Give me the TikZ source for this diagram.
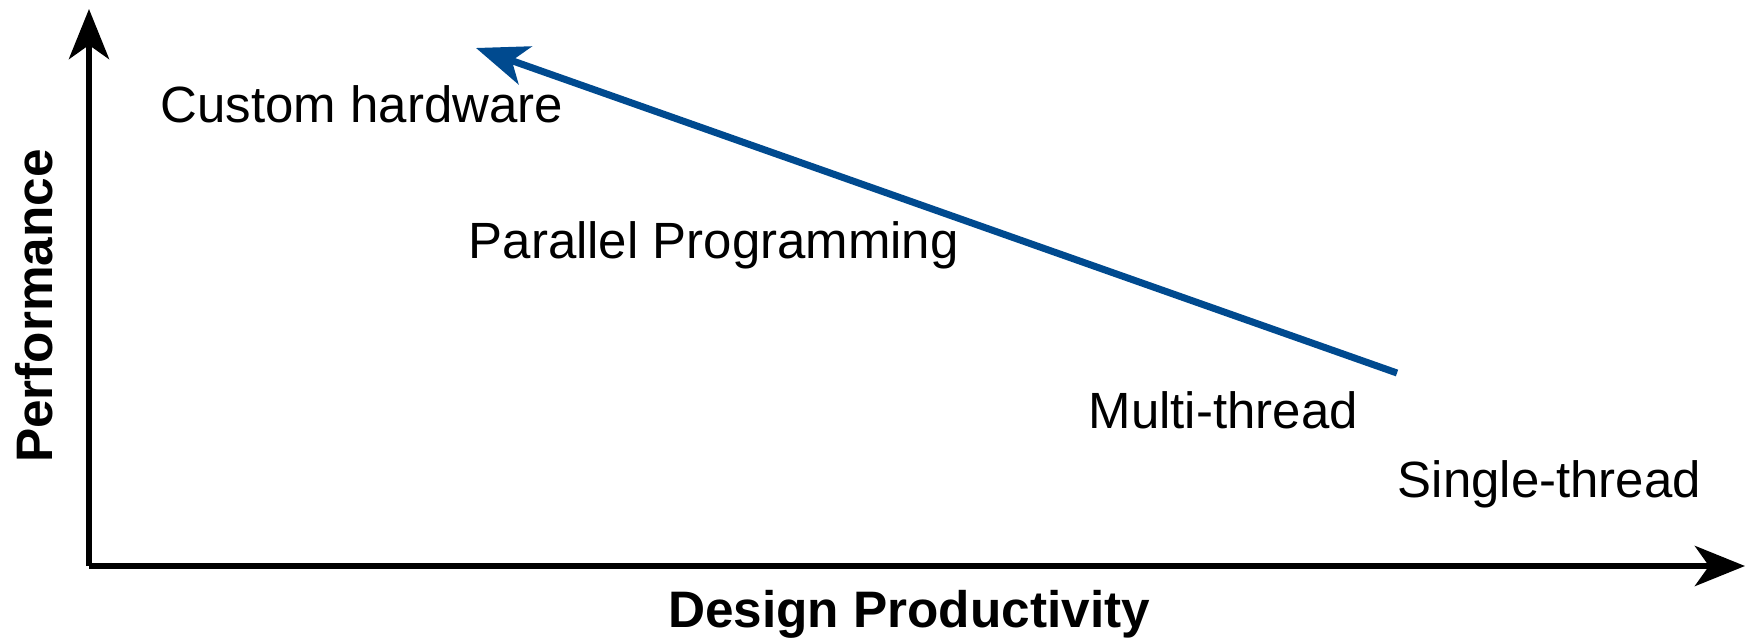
\documentclass[tikz,border=0pt]{standalone}
\usepackage{fontspec}
\setmainfont{Liberation Sans}
\usepackage{tikz}
\usetikzlibrary{arrows.meta,positioning}
\definecolor{trendcolor}{RGB}{0, 74, 143}

\begin{document}
\begin{tikzpicture}[
    axis/.style={-{Stealth[length=5mm, width=4mm, inset=1.4mm]}, line width=0.065cm, black},
    trend/.style={-{Stealth[length=5.2mm, width=4mm, inset=1.4mm]}, line width=0.07cm, trendcolor},
    label/.style={font=\fontsize{14.5}{17}\selectfont, inner sep=0pt, anchor=base west},
    title/.style={font=\fontsize{14.6}{17}\selectfont\bfseries, inner sep=0pt, anchor=base}
]
    \useasboundingbox (0,0) rectangle (17.46,6.43);

    % Axes
    \coordinate (origin) at (0.89,0.77);
    \coordinate (ytop) at (0.89,6.34);
    \coordinate (xend) at (17.45,0.77);
    \draw[axis] (origin) -- (ytop);
    \draw[axis] (origin) -- (xend);
    \node[title] (xlabel) at (9.09,0.16) {Design Productivity};
    \node[title, rotate=90] (ylabel) at (0.53,3.37) {Performance};

    % Approaches
    \node[label] (custom) at (1.60,5.21) {Custom hardware};
    \node[label] (parallel) at (4.68,3.85) {Parallel Programming};
    \node[label] (multi) at (10.88,2.15) {Multi-thread};
    \node[label] (single) at (13.97,1.46) {Single-thread};

    % Trend
    \coordinate (trendstart) at (13.97,2.70);
    \coordinate (trendend) at (4.76,5.95);
    \draw[trend] (trendstart) -- (trendend);
\end{tikzpicture}
\end{document}
